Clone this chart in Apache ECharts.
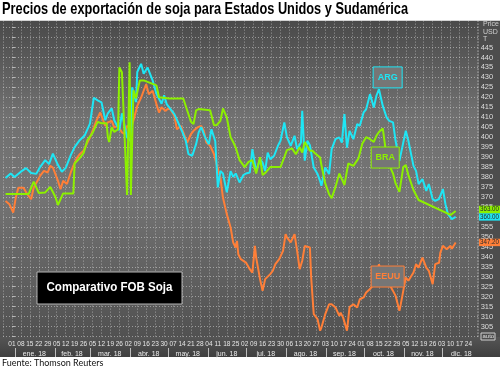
<!DOCTYPE html>
<html><head><meta charset="utf-8">
<script src="https://cdn.jsdelivr.net/npm/echarts@6/dist/echarts.min.js"></script>
<style>html,body{margin:0;padding:0;background:#fff}#c{width:500px;height:369px}</style>
</head><body><div id="c"></div>
<script>
// Days are counted from 1 Jan 2018 (0 = 01 ene. 18)
const argDays=[-5,-1,2,7,11,15,19,22,26,29,32,36,39,42,46,49,53,57,61,64,67,70,73,75,78,80,84,86,90,93,94,97,98,101,103,106,110,113,117,119,121,127,133,136,138,141,144,146,148,151,154,156,159,161,163,165,168,171,173,175,178,181,183,186,188,191,194,196,198,200,202,205,208,210,213,215,218,221,223,226,227,229,231,233,236,239,241,242,245,248,250,253,256,258,260,262,264,267,270,272,275,277,280,283,285,287,290,293,295,298,300,303,306,308,310,314,316,318,321,324,326,329,331,334,337,339,341,344,347];
const argVals=[379.5,381.8,380,382.7,384.5,382,381.6,385,388.5,386.5,391.8,386,382.7,384.5,391,395,398.5,401,406.8,419.8,418.5,417.5,408.5,412,414.5,408.5,403.5,412,400,398,425,417.6,432.7,436.8,431.8,435,428.5,421.8,416.8,421,416.6,411.6,403,398,391.5,390.7,396.5,402.4,405,400,396.5,404,398,374.8,383,381.8,372.3,383,380.1,381.8,377.3,381,381.8,382.3,394,383,389,387.3,383,392.3,389,390.7,395.7,398.2,407.4,400,395.7,400.7,394,397.3,413.2,388.2,398.2,396,384.8,381.5,378,375.6,384.8,381.5,394,399,399.9,397.3,411.6,394.8,403.2,399,406.6,405.7,412.4,414,421.6,414.9,420.8,424.1,415.7,409.9,408.2,407.4,398.2,388.2,397.3,403.2,398.2,385.6,383.1,376.5,379,373.1,376.5,368.9,368.1,369,374,366.4,361.4,358.9,360];

const braDays=[-5,13,17,21,26,30,34,36,40,48,49,53,56,59,63,67,70,74,75,76,78,80,83,84,86,90,92,93,95,97,100,103,113,115,123,134,137,140,142,144,146,155,158,160,163,165,168,171,173,175,178,182,185,188,191,194,196,198,202,210,213,215,219,222,225,227,229,233,235,237,241,242,245,248,250,253,256,258,260,263,267,271,274,277,280,283,285,287,290,293,295,298,300,303,306,308,310,314,316,318,343,345,347];
const braVals=[371.5,371.5,377.7,372,372.3,375,370,366,371.8,371.8,386.8,389.5,392,398.5,402,407.7,407,407,400,397.6,405,402.6,404,435,432.6,371,437.6,371,423.5,419.5,428.5,428.5,426,420,419.4,419.4,413.5,407.7,406.6,413.5,414.1,413.5,406,406,408.2,414.4,409.9,400,397.6,394.8,388.5,385,387.6,388.5,381.8,390,381,382,385,385,390,393.5,394.4,391.5,395,392.3,397.6,393.2,393.2,392,389.8,386,376.8,371.4,369.4,375,381.8,379,376,386.8,385.6,389.4,396.8,400,399,397.6,400.7,402.6,404.4,390,386,381.8,376.8,372.6,385,386,381,373.5,371,368.5,361,362,363];

const usDays=[-5,-2,1,3,5,9,12,15,17,20,22,25,28,30,32,36,38,40,43,46,48,51,53,56,59,61,63,66,69,70,73,75,78,80,83,86,88,90,93,96,98,101,103,105,107,110,113,115,117,120,123,124,127,129,132,134,137,140,142,145,148,150,152,155,158,160,163,165,168,171,173,175,176,177,179,183,186,188,190,191,194,196,198,202,204,206,209,212,214,215,218,221,223,225,227,229,233,234,236,239,241,242,245,248,250,253,256,257,259,262,264,267,270,272,275,277,280,283,285,287,290,293,295,298,300,303,304,306,308,310,314,316,318,321,324,326,329,331,334,335,337,340,343,344,347];
const usVals=[368,366.4,362.2,369.7,374.7,374.7,371.4,368.9,374.7,378.1,380.6,383.1,382.3,385.6,384.8,378.1,373.9,378.1,376.5,382.3,385.6,389.8,391.5,393.2,397.3,399.8,403.2,408.2,412.4,413.2,405.7,407.4,408.2,404.9,405.7,402.4,401.6,405.7,404,410.7,415.7,419.9,423.3,426.6,421.6,423.3,416.6,412.4,415,413.2,414.9,415,410.7,404,405.7,402.4,397.3,401.6,403.2,404.9,405.7,403.2,397.3,395.7,391.5,386.5,379.8,369.7,361.4,354.7,347.2,344.7,348,341.3,338.8,337.1,333.8,332.1,345.5,339.6,328.8,322.9,328.8,331.3,333,336.3,338.8,343,351.4,349.7,347.2,351.4,343,333.8,338,345.5,344.7,329.6,311.2,308.7,302.9,304.5,311.2,316.2,316.2,314.6,310.4,312,309.5,302.9,314.8,316.2,314.6,318.7,319.6,322.1,323.8,326.3,329.6,336.3,328,326.3,326.3,322.9,320.4,312.9,316,322.9,329.6,328,332.1,336.3,334.6,339.6,334.6,333,326.3,336.3,337,342.1,345.5,343.8,345.5,344,347.2];

const lastLabels=['360.00','363.00','347.20'];
const monthLabels=['ene. 18','feb. 18','mar. 18','abr. 18','may. 18','jun. 18','jul. 18','ago. 18','sep. 18','oct. 18','nov. 18','dic. 18'];
const monthMids=[17.5,47,76.5,107,137.5,168,198.5,229.5,260,290.5,321,351.5];
const monthSeps=[2.5,33.5,61.5,92.5,122.5,153.5,183.5,214.5,245.5,275.5,306.5,336.5];
const titleText='Precios de exportación de soja para Estados Unidos y Sudamérica';
const boxText='Comparativo FOB Soja';
const sourceText='Fuente: Thomson Reuters';
const unitLines=['Price','USD','T'];

const C_ARG='#1ee6f5', C_BRA='#8cf000', C_US='#ff7f38';
const zip=(d,v)=>d.map((x,i)=>[x,v[i]]);
const pad=n=>(n<10?'0':'')+n;
const grid='rgba(215,215,215,0.55)';
const measure=(font,text)=>{const c=document.createElement('canvas').getContext('2d');c.font=font;return c.measureText(text).width;};

const chart=echarts.init(document.getElementById('c'),null,{renderer:'canvas'});
const lineS=(name,d,v,c)=>({name,type:'line',data:zip(d,v),showSymbol:false,symbol:'none',
  lineStyle:{color:c,width:2},itemStyle:{color:c},animation:false,z:3});
const lblFont='Liberation Sans, sans-serif';
chart.setOption({
  animation:false,
  backgroundColor:'#ffffff',
  grid:{left:-3.1,right:21.3,top:17.6,bottom:22.5,containLabel:false},
  xAxis:[
    {type:'value',min:-7,max:365,interval:7,position:'bottom',z:0,
      axisLine:{show:false},axisTick:{show:false},axisLabel:{show:false},
      splitLine:{show:true,lineStyle:{color:grid,type:[1,2],width:1}}},
    {type:'value',min:-7,max:365,interval:7,position:'bottom',offset:-9.5,z:110,
      axisLine:{show:false},axisTick:{show:false},splitLine:{show:false},
      axisLabel:{margin:3.5,fontSize:6.5,color:'#e6e6e6',fontFamily:lblFont,
        showMinLabel:true,showMaxLabel:true,hideOverlap:false,
        formatter:v=>{ if(v<0||v>357) return ''; const dt=new Date(Date.UTC(2018,0,1+v)); return pad(dt.getUTCDate()); }}},
    {type:'value',min:-7,max:365,position:'bottom',offset:1.5,z:110,
      axisLine:{show:false},splitLine:{show:false},
      axisTick:{show:true,customValues:monthSeps,length:9,lineStyle:{color:'#bdbdbd',width:1}},
      axisLabel:{customValues:monthMids,margin:2.5,fontSize:7,color:'#ececec',fontFamily:lblFont,hideOverlap:false,
        formatter:v=>{const i=monthMids.indexOf(v);return i>=0?monthLabels[i]:'';}}}
  ],
  yAxis:{type:'value',position:'right',min:295,max:460,interval:5,z:0,
    axisLine:{show:false},
    axisTick:{show:true,length:3,lineStyle:{color:'#bbbbbb'}},
    splitLine:{show:true,lineStyle:{color:grid,type:[1,2],width:1}},
    axisLabel:{margin:2,fontSize:7.5,color:'#dddddd',fontFamily:lblFont,
      formatter:v=>(v>=305&&v<=445)?String(v):''}},
  series:[lineS('EEUU',usDays,usVals,C_US),lineS('ARG',argDays,argVals,C_ARG),lineS('BRA',braDays,braVals,C_BRA)]
});

const px=(d,v)=>chart.convertToPixel({xAxisIndex:0,yAxisIndex:0},[d,v]);
const g=[];
g.push({type:'rect',shape:{x:0,y:20.5,width:479,height:317},z:-20,silent:true,
  style:{fill:new echarts.graphic.LinearGradient(0,0,0,1,[{offset:0,color:'#4a4a4a'},{offset:0.3,color:'#717171'},{offset:0.55,color:'#747474'},{offset:1,color:'#515151'}])}});
g.push({type:'rect',shape:{x:479,y:20.5,width:21,height:317},z:-20,silent:true,style:{fill:'#4d4d4d'}});
g.push({type:'rect',shape:{x:0,y:0,width:500,height:20.5},z:100,silent:true,style:{fill:'#ffffff'}});
g.push({type:'rect',shape:{x:0,y:337,width:500,height:20},z:100,silent:true,
  style:{fill:new echarts.graphic.LinearGradient(0,0,0,1,[{offset:0,color:'#555555'},{offset:1,color:'#3f3f3f'}])}});
g.push({type:'rect',shape:{x:0,y:357,width:500,height:12},z:100,silent:true,style:{fill:'#ffffff'}});
const tFont='bold 17px "Liberation Sans", Arial, sans-serif';
const tW=measure(tFont,titleText);
g.push({type:'text',x:2,y:18.3,scaleX:406/tW,scaleY:1,z:130,silent:true,style:{text:titleText,fill:'#000',font:tFont,textVerticalAlign:'bottom',textBaseline:'alphabetic'}});
unitLines.forEach((t,i)=>g.push({type:'text',x:483,y:21+i*7.5,z:120,silent:true,style:{text:t,fill:'#d0d0d0',font:'7px Liberation Sans, sans-serif'}}));
g.push({type:'rect',shape:{x:481,y:333,width:14,height:7},z:120,silent:true,style:{fill:'#4d4d4d',stroke:'#cfcfcf',lineWidth:1}});
g.push({type:'text',x:482.5,y:333.5,z:121,silent:true,style:{text:'auto',fill:'#e0e0e0',font:'6px Liberation Sans, sans-serif'}});
g.push({type:'text',x:2,y:358.5,z:120,silent:true,style:{text:sourceText,fill:'#111',font:'9px Lato, sans-serif'}});
// end value tags
const tagInfo=[[argVals[argVals.length-1],lastLabels[0],C_ARG,0],[braVals[braVals.length-1],lastLabels[1],C_BRA,-1.5],[usVals[usVals.length-1],lastLabels[2],C_US,0]];
const tagFont='6.5px "Liberation Sans", Arial, sans-serif';
tagInfo.forEach(([v,t,c,dy])=>{const p=px(0,v);const y=p[1]+dy;
  const w=measure(tagFont,t);const s=Math.min(1,19/w);
  g.push({type:'rect',shape:{x:479,y:y-3.7,width:21,height:7.4},z:125,silent:true,style:{fill:c}});
  g.push({type:'text',x:480,y:y,scaleX:s,z:126,silent:true,style:{text:t,fill:'#2a2a2a',font:tagFont,textVerticalAlign:'middle'}});
});
const annos=[['ARG',293.8,430,29,C_ARG],['BRA',291.9,389.8,28,C_BRA],['EEUU',293.8,330.1,33,C_US]];
annos.forEach(([t,d,v,w,c])=>{const p=px(d,v);
  g.push({type:'rect',shape:{x:p[0]-w/2,y:p[1]-10.5,width:w,height:21},z:60,silent:true,style:{fill:'#767676',stroke:c,lineWidth:1}});
  g.push({type:'text',x:p[0],y:p[1],z:61,silent:true,style:{text:t,fill:c,font:'bold 9px Liberation Sans, sans-serif',textAlign:'center',textVerticalAlign:'middle'}});
});
g.push({type:'rect',shape:{x:37,y:272,width:145,height:32},z:60,silent:true,style:{fill:'#000',stroke:'#b5b5b5',lineWidth:1}});
const bFont='bold 12.5px "Liberation Sans", Arial, sans-serif';
const bW=measure(bFont,boxText);
g.push({type:'text',x:109.5,y:288,scaleX:126/bW,z:61,silent:true,style:{text:boxText,fill:'#fff',font:bFont,textAlign:'center',textVerticalAlign:'middle'}});
chart.setOption({graphic:g});
</script></body></html>
